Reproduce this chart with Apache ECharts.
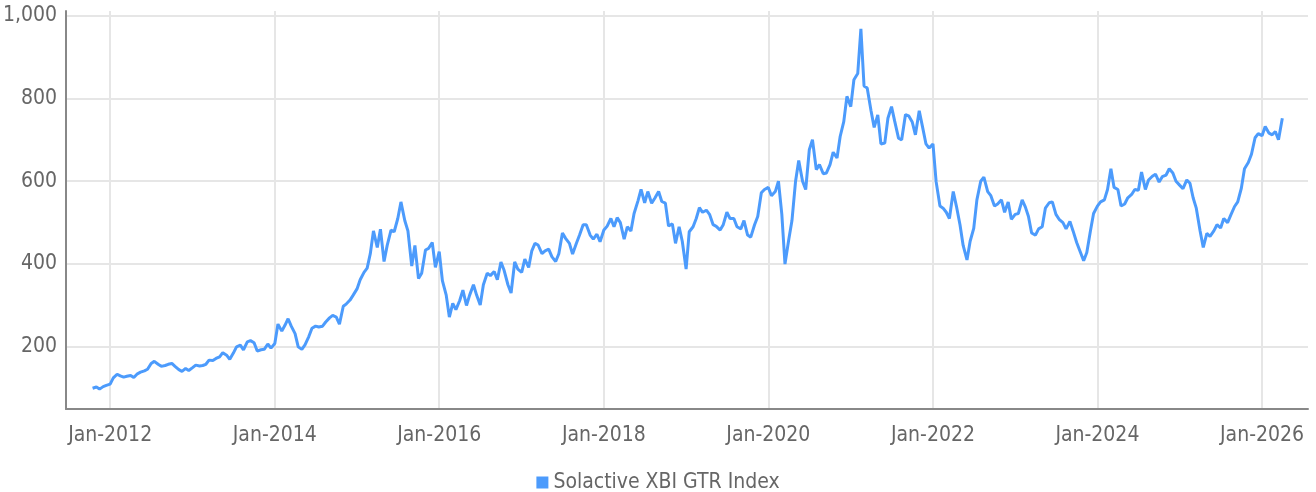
<!DOCTYPE html>
<html>
<head>
<meta charset="utf-8">
<script src="https://cdn.jsdelivr.net/npm/echarts@6/dist/echarts.min.js"></script>
<style>
  html, body { margin: 0; padding: 0; background: #fff; }
  #chart { width: 1316px; height: 492px; }
</style>
</head>
<body>
<div id="chart"></div>
<script>
// index values, two readings per month (1st and 15th), first one is 15 Oct 2011
var v2011 = [100, 103, 98, 104, 107]
var v2012 = [110, 125, 134, 130, 127, 129, 131, 126, 135, 139, 142, 146, 160, 165, 158, 153, 155, 158, 160, 153, 145, 141, 148, 143]
var v2013 = [150, 156, 154, 155, 158, 168, 167, 172, 176, 186, 180, 170, 185, 200, 204, 193, 212, 215, 210, 190, 193, 194, 207, 197]
var v2014 = [208, 255, 238, 252, 268, 250, 232, 200, 194, 205, 225, 245, 250, 248, 250, 260, 270, 276, 272, 255, 298, 304, 313, 325]
var v2015 = [340, 362, 380, 390, 425, 480, 440, 484, 406, 445, 482, 478, 510, 550, 505, 480, 395, 445, 365, 378, 434, 438, 452, 392]
var v2016 = [430, 360, 325, 272, 305, 290, 312, 337, 300, 325, 350, 325, 301, 350, 378, 372, 382, 362, 405, 385, 350, 330, 405, 388]
var v2017 = [380, 412, 392, 432, 450, 446, 425, 432, 436, 418, 406, 425, 475, 462, 450, 424, 450, 470, 495, 495, 470, 460, 472, 454]
var v2018 = [482, 491, 510, 490, 512, 500, 460, 490, 480, 522, 552, 580, 548, 575, 547, 559, 575, 551, 547, 492, 497, 450, 490, 455]
var v2019 = [388, 478, 490, 510, 536, 525, 530, 520, 495, 491, 482, 495, 525, 510, 510, 490, 485, 505, 470, 465, 495, 515, 572, 580]
var v2020 = [585, 565, 575, 600, 520, 400, 460, 505, 600, 650, 600, 580, 676, 700, 628, 640, 618, 620, 640, 670, 656, 708, 744, 805]
var v2021 = [780, 845, 860, 968, 830, 825, 770, 730, 760, 690, 692, 752, 780, 745, 704, 700, 761, 758, 743, 712, 770, 733, 690, 680]
var v2022 = [690, 599, 540, 535, 525, 510, 575, 540, 495, 445, 410, 455, 486, 555, 600, 610, 575, 565, 540, 545, 555, 525, 550, 508]
var v2023 = [520, 522, 555, 538, 515, 475, 470, 485, 490, 535, 548, 550, 520, 508, 500, 485, 503, 480, 452, 432, 408, 428, 480, 522]
var v2024 = [540, 550, 555, 580, 630, 585, 580, 540, 545, 560, 568, 580, 578, 622, 580, 603, 612, 617, 598, 611, 615, 630, 620, 600]
var v2025 = [590, 582, 603, 595, 560, 535, 480, 440, 474, 467, 480, 495, 487, 510, 500, 518, 539, 550, 583, 630, 645, 665, 705, 715]
var v2026 = [710, 732, 716, 712, 720, 700, 752]

var yTicks = [200, 400, 600, 800, 1000]
var xTickYears = [2012, 2014, 2016, 2018, 2020, 2022, 2024, 2026]
var seriesName = 'Solactive XBI GTR Index'

var values = [].concat(v2011, v2012, v2013, v2014, v2015, v2016, v2017, v2018,
  v2019, v2020, v2021, v2022, v2023, v2024, v2025, v2026)

// dates: 1st and 15th of each month starting 15 Oct 2011
var dates = []
var yr = 2011, mo = 9, day = 15
for (var i = 0; i < values.length; i++) {
  dates.push(new Date(yr, mo, day).getTime())
  if (day === 1) {
    day = 15
  } else {
    day = 1
    mo++
    if (mo > 11) { mo = 0; yr++ }
  }
}
var points = dates.map(function (d, i) { return [d, values[i]] })
var xTicks = xTickYears.map(function (y) { return new Date(y, 0, 1).getTime() })

var fontFam = "'DejaVu Sans Condensed', 'Liberation Sans Narrow', sans-serif"
var textColor = '#666'

var chart = echarts.init(document.getElementById('chart'))
chart.setOption({
  animation: false,
  textStyle: { fontFamily: fontFam },
  grid: { left: 66, right: 8, top: 11, bottom: 83, containLabel: false, outerBoundsMode: 'none' },
  legend: {
    top: 467,
    left: 'center',
    icon: 'rect',
    itemWidth: 12,
    itemHeight: 12,
    itemGap: 4,
    textStyle: { color: textColor, fontSize: 21, fontFamily: fontFam },
    data: [seriesName]
  },
  xAxis: {
    // timestamps on a value axis so the ticks can sit on 1 Jan of even years
    type: 'value',
    min: new Date(2011, 5, 19).getTime(),
    max: new Date(2026, 6, 24).getTime(),
    axisLine: { lineStyle: { color: '#888', width: 2 } },
    axisTick: { show: false, customValues: xTicks },
    splitLine: { show: true, lineStyle: { color: '#e6e6e6', width: 2 } },
    axisLabel: {
      customValues: xTicks,
      color: textColor,
      fontSize: 21,
      fontFamily: fontFam,
      margin: 16,
      formatter: function (val) {
        return 'Jan-' + new Date(val).getFullYear()
      }
    }
  },
  yAxis: {
    type: 'value',
    min: 50,
    max: 1011,
    axisLine: { show: true, lineStyle: { color: '#888', width: 2 } },
    axisTick: { show: false, customValues: yTicks },
    splitLine: { show: true, lineStyle: { color: '#e6e6e6', width: 2 } },
    axisLabel: {
      customValues: yTicks,
      color: textColor,
      fontSize: 21,
      fontFamily: fontFam,
      margin: 9,
      formatter: function (val) {
        return val.toLocaleString('en-US')
      }
    }
  },
  series: [{
    name: seriesName,
    type: 'line',
    data: points,
    showSymbol: false,
    itemStyle: { color: '#4c9bfc' },
    lineStyle: { color: '#4c9bfc', width: 3 }
  }]
})
</script>
</body>
</html>
